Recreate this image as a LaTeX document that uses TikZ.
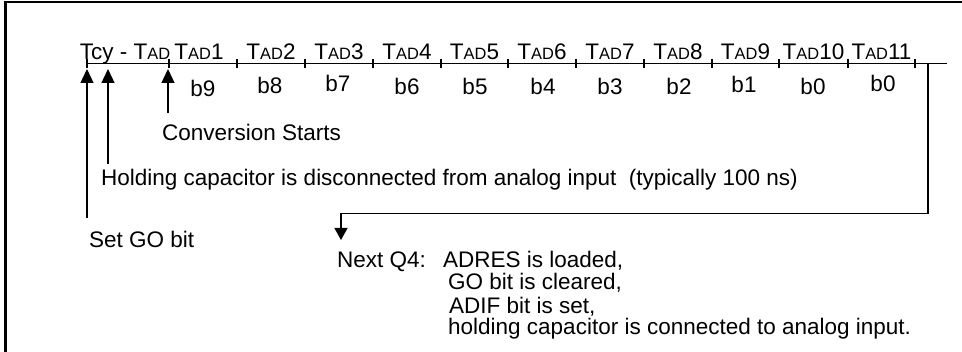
\documentclass[tikz,border=0pt]{standalone}
\usepackage{fontspec}
\setmainfont{Liberation Sans}
\usetikzlibrary{arrows.meta}
\newcommand\tadsub{{\fontsize{16.4}{18}\selectfont AD}}
\begin{document}
\begin{tikzpicture}[x=1pt,y=-1pt,
  every node/.style={inner sep=0pt, font=\fontsize{22.5}{26}\selectfont},
  lbl/.style={anchor=base},
  txt/.style={anchor=base west},
  axis/.style={line width=1.4pt},
  tickmark/.style={line width=1.2pt},
  uparrow/.style={line width=1.3pt, -{Triangle[width=13pt,length=14pt]}},
  downarrow/.style={line width=1.3pt, -{Triangle[width=13pt,length=12pt]}},
  frame/.style={line width=2.5pt}]
\useasboundingbox (0,0) rectangle (962,352);
% frame (only left and top edges visible)
\draw[frame] (5.3,352) -- (5.3,2.2) -- (962,2.2);
% timeline
\coordinate (tlstart) at (87,63.5);
\coordinate (tlend) at (947,63.5);
\draw[axis] (tlstart) -- (tlend);
\foreach \x [count=\i] in {87,169,237,305,373,441,508,576,644,712,779,848,915}{
  \coordinate (t\i) at (\x,63.5);
  \draw[tickmark] (\x,59) -- (\x,68);
}
% segment labels
\node[lbl] (lab0) at (125,60) {Tcy - T\tadsub};
\foreach \c/\n [count=\i] in {199/1,271/2,339/3,407/4,474.5/5,542/6,610/7,678/8,745.5/9,813.5/10,881.5/11}{
  \node[lbl] (lab\i) at (\c,60) {T\tadsub\n};
}
% bit labels
\foreach \c/\yy/\b [count=\i] in {203/97/b9,270/94/b8,338/92/b7,407/95/b6,475/95/b5,543/95/b4,610/95/b3,679/95/b2,744/93/b1,813/95/b0,883/92/b0}{
  \node[lbl] (bit\i) at (\c,\yy) {\b};
}
% texts
\node[txt] (conv) at (162,141) {Conversion Starts};
\node[txt] (hold) at (101,186) {Holding capacitor is disconnected from analog input\ \ (typically 100 ns)};
\node[txt] (setgo) at (89,248) {Set GO bit};
\node[txt] (nextq) at (337,268) {Next Q4:};
\node[txt] (l1) at (443,268) {ADRES is loaded,};
\node[txt] (l2) at (448,290) {GO bit is cleared,};
\node[txt] (l3) at (449,314) {ADIF bit is set,};
\node[txt] (l4) at (448,335) {holding capacitor is connected to analog input.};
% up arrows
\coordinate (a1s) at (87,218);   \coordinate (a1e) at (87,69);
\coordinate (a2s) at (108,164);  \coordinate (a2e) at (108,69);
\coordinate (a3s) at (168,113);  \coordinate (a3e) at (168,69);
\draw[uparrow] (a1s) -- (a1e);
\draw[uparrow] (a2s) -- (a2e);
\draw[uparrow] (a3s) -- (a3e);
% end-of-conversion connector
\coordinate (ev) at (928,63.5);
\coordinate (ec) at (928,213.5);
\coordinate (eh) at (341,213.5);
\coordinate (ee) at (341,240);
\draw[downarrow] (ev) -- (ec) -- (eh) -- (ee);
\end{tikzpicture}
\end{document}
